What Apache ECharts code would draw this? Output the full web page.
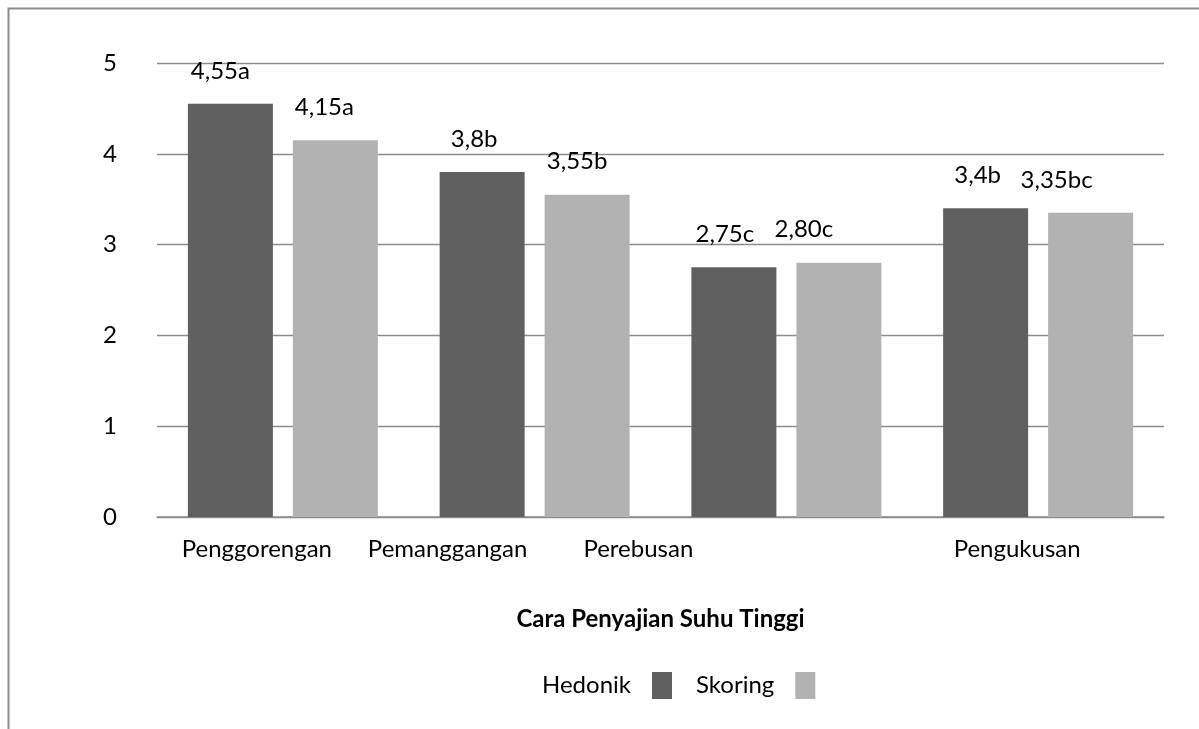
<!DOCTYPE html>
<html>
<head>
<meta charset="utf-8">
<script src="https://cdn.jsdelivr.net/npm/echarts@6/dist/echarts.min.js"></script>
<style>
html,body{margin:0;padding:0;background:#fff;}
#chart{width:1199px;height:729px;}
</style>
</head>
<body>
<div id="chart"></div>
<script>
const categories = ['Penggorengan', 'Pemanggangan', 'Perebusan', 'Pengukusan'];
const seriesNames = ['Hedonik', 'Skoring'];
const hedonik = [4.55, 3.8, 2.75, 3.4];
const skoring = [4.15, 3.55, 2.8, 3.35];
const hedonikLabels = ['4,55a', '3,8b', '2,75c', '3,4b'];
const skoringLabels = ['4,15a', '3,55b', '2,80c', '3,35bc'];
const yTicks = [0, 1, 2, 3, 4, 5];
const axisTitle = 'Cara Penyajian Suhu Tinggi';

// styling (kept separate from data)
const FONT = 'Lato';
const FS = 24;
const hedonikLabelShift = [-10, -8, -9, -8];
const skoringLabelShift = [-11, -10, -35, -34];
const catLabelShift = [26, 87, 148, 21];

const chart = echarts.init(document.getElementById('chart'));

function items(vals, labels, shifts) {
  return vals.map((v, i) => ({
    value: v,
    label: { formatter: labels[i], offset: [shifts[i], 0] }
  }));
}

const option = {
  animation: false,
  backgroundColor: '#fff',
  textStyle: { fontFamily: FONT },
  graphic: [{
    type: 'rect',
    shape: { x: 8.5, y: 8.5, width: 1300, height: 1000 },
    style: { fill: 'none', stroke: '#8c8c8c', lineWidth: 2 },
    silent: true
  }],
  grid: { left: 157, right: 35, top: 63, bottom: 212, containLabel: false },
  legend: {
    data: seriesNames,
    left: 537,
    top: 667,
    align: 'right',
    itemWidth: 20,
    itemHeight: 27,
    itemGap: 24,
    icon: 'rect',
    textStyle: { fontFamily: FONT, fontSize: FS, color: '#000', padding: [0, 16, 0, 0] }
  },
  xAxis: {
    type: 'category',
    data: categories.map((c, i) => ({
      value: c,
      textStyle: { padding: [0, catLabelShift[i] * 2, 0, 0] }
    })),
    name: axisTitle,
    nameLocation: 'middle',
    nameGap: 90,
    nameTextStyle: { fontFamily: FONT, fontSize: FS, fontWeight: 'bold', color: '#000' },
    axisLine: { show: true, lineStyle: { color: '#8c8c8c', width: 1.5 } },
    axisTick: { show: false },
    axisLabel: { fontFamily: FONT, fontSize: FS, color: '#000', margin: 20, interval: 0 }
  },
  yAxis: {
    type: 'value',
    min: yTicks[0],
    max: yTicks[yTicks.length - 1],
    interval: 1,
    axisLine: { show: false },
    axisTick: { show: false },
    splitLine: { lineStyle: { color: '#8c8c8c', width: 1.3 } },
    axisLabel: { fontFamily: FONT, fontSize: FS, color: '#000', margin: 40 }
  },
  series: [
    {
      name: seriesNames[0],
      type: 'bar',
      barWidth: 85,
      barGap: '23.5%',
      itemStyle: { color: '#606060' },
      label: { show: true, position: 'top', distance: 21, fontFamily: FONT, fontSize: FS, color: '#000' },
      data: items(hedonik, hedonikLabels, hedonikLabelShift)
    },
    {
      name: seriesNames[1],
      type: 'bar',
      barWidth: 85,
      itemStyle: { color: '#b2b2b2' },
      label: { show: true, position: 'top', distance: 21, fontFamily: FONT, fontSize: FS, color: '#000' },
      data: items(skoring, skoringLabels, skoringLabelShift)
    }
  ]
};
chart.setOption(option);
</script>
</body>
</html>
